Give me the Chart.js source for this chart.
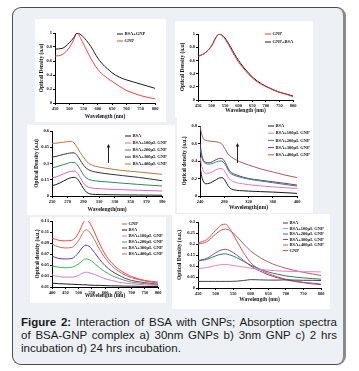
<!DOCTYPE html>
<html>
<head>
<meta charset="utf-8">
<script src="https://cdn.jsdelivr.net/npm/chart.js@4.4.0/dist/chart.umd.min.js"></script>
<style>
  body { margin: 0; width: 359px; height: 371px; background: #fff; position: relative; overflow: hidden; }
  #frame { position: absolute; left: 12px; top: 7px; width: 334px; height: 358px; box-sizing: border-box;
           border: 1.5px solid #4d4d4d; border-right: 3px solid #8a8a8a; border-radius: 9px; background: #edf0f4; }
  .panel { position: absolute; background: #fff; }
  .panel canvas { display: block; }
  #caption { position: absolute; left: 21px; top: 316px; width: 316px; font-family: "Liberation Sans", Arial, sans-serif;
             font-size: 11.5px; color: #1a1a1a; }
  #caption div { height: 13px; line-height: 13px; white-space: nowrap; }
  #caption .j { text-align: justify; text-align-last: justify; white-space: normal; }
</style>
</head>
<body>
<div id="frame"></div>
<div class="panel" id="p1"><canvas></canvas></div>
<div class="panel" id="p2"><canvas></canvas></div>
<div class="panel" id="p3"><canvas></canvas></div>
<div class="panel" id="p4"><canvas></canvas></div>
<div class="panel" id="p5"><canvas></canvas></div>
<div class="panel" id="p6"><canvas></canvas></div>
<div id="caption">
  <div class="j"><b>Figure 2:</b> Interaction of BSA with GNPs; Absorption spectra</div>
  <div class="j">of BSA-GNP complex a) 30nm GNPs b) 3nm GNP c) 2 hrs</div>
  <div>incubation d) 24 hrs incubation.</div>
</div>
<script>
// a) 30nm GNPs
const wl1 = [450, 475, 500, 515, 527, 545, 575, 600, 625, 642, 650, 675, 700, 725, 750, 775, 800]
const bsaGnp1 = [0.77, 0.78, 0.86, 0.93, 1.0, 0.96, 0.81, 0.64, 0.52, 0.46, 0.43, 0.37, 0.33, 0.3, 0.27, 0.24, 0.21]
const gnp1 = [0.67, 0.69, 0.79, 0.9, 1.0, 0.88, 0.64, 0.48, 0.38, 0.33, 0.31, 0.24, 0.18, 0.14, 0.105, 0.08, 0.06]

// b) 3nm GNP
const wl2 = [450, 475, 500, 515, 528, 545, 562, 592, 623, 654, 684, 715, 746, 776, 800]
const gnp2 = [0.66, 0.71, 0.82, 0.94, 1.0, 0.95, 0.84, 0.62, 0.45, 0.32, 0.235, 0.175, 0.12, 0.085, 0.05]
const gnpBsa2 = [0.66, 0.71, 0.82, 0.94, 1.0, 0.96, 0.86, 0.645, 0.47, 0.335, 0.245, 0.18, 0.125, 0.09, 0.06]

// c) 2 hrs incubation
const wl3 = [250, 255, 260, 265, 270, 275, 278, 282, 286, 290, 294, 298, 305, 320, 340, 360, 390]
const bsa3 = [0.095, 0.105, 0.12, 0.14, 0.158, 0.17, 0.172, 0.16, 0.12, 0.07, 0.035, 0.02, 0.014, 0.012, 0.01, 0.009, 0.007]
const g100c = [0.168, 0.175, 0.19, 0.205, 0.22, 0.228, 0.23, 0.215, 0.17, 0.12, 0.09, 0.078, 0.07, 0.064, 0.058, 0.053, 0.046]
const g200c = [0.26, 0.268, 0.28, 0.29, 0.302, 0.31, 0.31, 0.29, 0.245, 0.195, 0.165, 0.15, 0.14, 0.13, 0.118, 0.107, 0.092]
const g300c = [0.36, 0.365, 0.375, 0.385, 0.393, 0.398, 0.398, 0.375, 0.33, 0.285, 0.255, 0.237, 0.222, 0.205, 0.188, 0.172, 0.141]
const g400c = [0.485, 0.488, 0.492, 0.497, 0.502, 0.505, 0.49, 0.45, 0.4, 0.36, 0.32, 0.295, 0.275, 0.255, 0.235, 0.222, 0.2]

// d) 24 hrs incubation (near UV)
const wl4 = [240, 243, 246, 250, 255, 260, 265, 270, 275, 278, 282, 286, 290, 295, 300, 310, 320, 340, 360, 380, 400]
const bsa4 = [0.334, 0.22, 0.16, 0.14, 0.145, 0.16, 0.18, 0.2, 0.21, 0.205, 0.17, 0.12, 0.087, 0.072, 0.065, 0.06, 0.056, 0.05, 0.045, 0.038, 0.03]
const g100d = [0.45, 0.34, 0.28, 0.26, 0.262, 0.275, 0.295, 0.31, 0.315, 0.305, 0.27, 0.22, 0.185, 0.165, 0.152, 0.14, 0.13, 0.115, 0.105, 0.095, 0.087]
const g200d = [0.54, 0.44, 0.39, 0.37, 0.365, 0.37, 0.385, 0.397, 0.4, 0.39, 0.355, 0.3, 0.26, 0.24, 0.227, 0.208, 0.193, 0.172, 0.152, 0.132, 0.114]
const g300d = [0.6, 0.47, 0.405, 0.385, 0.38, 0.39, 0.41, 0.425, 0.43, 0.42, 0.38, 0.32, 0.277, 0.255, 0.24, 0.218, 0.2, 0.18, 0.163, 0.145, 0.125]
const g400d = [0.8, 0.7, 0.65, 0.635, 0.628, 0.625, 0.62, 0.615, 0.6, 0.575, 0.53, 0.48, 0.455, 0.43, 0.41, 0.38, 0.355, 0.31, 0.275, 0.24, 0.21]

// 2 hrs incubation (visible)
const wl5 = [400, 425, 450, 475, 500, 515, 528, 540, 560, 580, 600, 625, 650, 675, 700, 750, 800]
const gnp5 = [0.099, 0.095, 0.094, 0.095, 0.108, 0.124, 0.132, 0.128, 0.11, 0.088, 0.07, 0.054, 0.043, 0.035, 0.029, 0.022, 0.019]
const bsa5 = [0.017, 0.016, 0.0155, 0.015, 0.0145, 0.014, 0.014, 0.0135, 0.013, 0.013, 0.0125, 0.012, 0.012, 0.0115, 0.0115, 0.011, 0.011]
const g100e = [0.032, 0.029, 0.028, 0.028, 0.031, 0.035, 0.037, 0.036, 0.033, 0.029, 0.025, 0.022, 0.019, 0.017, 0.016, 0.014, 0.013]
const g200e = [0.048, 0.046, 0.045, 0.046, 0.052, 0.058, 0.061, 0.06, 0.053, 0.045, 0.038, 0.031, 0.026, 0.022, 0.019, 0.016, 0.014]
const g300e = [0.066, 0.062, 0.061, 0.062, 0.072, 0.082, 0.086, 0.084, 0.073, 0.06, 0.049, 0.039, 0.032, 0.026, 0.022, 0.018, 0.015]
const g400e = [0.088, 0.083, 0.081, 0.082, 0.094, 0.107, 0.114, 0.111, 0.096, 0.078, 0.063, 0.049, 0.039, 0.032, 0.027, 0.021, 0.017]

// 24 hrs incubation (visible)
const wl6 = [450, 475, 500, 515, 528, 540, 560, 580, 600, 625, 650, 675, 700, 725, 750, 775, 800]
const bsa6 = [0.03, 0.03, 0.03, 0.03, 0.03, 0.03, 0.031, 0.034, 0.038, 0.037, 0.036, 0.036, 0.037, 0.036, 0.035, 0.035, 0.034]
const g100f = [0.088, 0.093, 0.102, 0.106, 0.107, 0.105, 0.1, 0.095, 0.09, 0.085, 0.081, 0.078, 0.076, 0.075, 0.074, 0.074, 0.073]
const g200f = [0.123, 0.13, 0.146, 0.153, 0.155, 0.151, 0.138, 0.121, 0.104, 0.087, 0.073, 0.063, 0.055, 0.05, 0.046, 0.043, 0.04]
const g300f = [0.125, 0.135, 0.16, 0.172, 0.176, 0.17, 0.15, 0.125, 0.1, 0.078, 0.06, 0.047, 0.037, 0.03, 0.024, 0.019, 0.015]
const g400f = [0.2, 0.21, 0.245, 0.262, 0.268, 0.262, 0.235, 0.2, 0.168, 0.14, 0.118, 0.102, 0.09, 0.08, 0.071, 0.064, 0.057]
const gnp6 = [0.205, 0.22, 0.262, 0.285, 0.29, 0.27, 0.215, 0.16, 0.115, 0.085, 0.066, 0.051, 0.04, 0.032, 0.026, 0.022, 0.018]

const tickFont = { family: 'Liberation Serif', size: 4.5, weight: 'bold' }
const titleFont = { family: 'Liberation Serif', size: 5.5, weight: 'bold' }

function series(xs, ys) {
    return xs.map((x, i) => ({ x: x, y: ys[i] }))
}

function line(label, color, xs, ys) {
    return { label: label, borderColor: color, data: series(xs, ys) }
}

// dibuja la leyenda pequeña dentro del gráfico
const miniLegend = {
    id: 'miniLegend',
    afterDraw(chart, args, opts) {
        const ctx = chart.ctx
        ctx.save()
        ctx.font = 'bold 4.5px "Liberation Serif"'
        ctx.textBaseline = 'middle'
        chart.data.datasets.forEach((ds, i) => {
            const y = opts.y + i * opts.dy
            ctx.strokeStyle = ds.borderColor
            ctx.lineWidth = 1
            ctx.beginPath()
            ctx.moveTo(opts.x, y)
            ctx.lineTo(opts.x + opts.len, y)
            ctx.stroke()
            ctx.fillStyle = '#111'
            ctx.fillText(ds.label, opts.x + opts.len + 1.5, y)
        })
        ctx.restore()
    }
}

// flecha vertical (en unidades de datos)
const arrowMark = {
    id: 'arrowMark',
    afterDatasetsDraw(chart, args, opts) {
        if (opts.at === undefined) return
        const ctx = chart.ctx
        const x = Math.round(chart.scales.x.getPixelForValue(opts.at)) + 0.5
        const y0 = chart.scales.y.getPixelForValue(opts.from)
        const y1 = chart.scales.y.getPixelForValue(opts.to)
        ctx.save()
        ctx.strokeStyle = '#222'
        ctx.fillStyle = '#222'
        ctx.lineWidth = 1
        ctx.beginPath()
        ctx.moveTo(x, y0)
        ctx.lineTo(x, y1 + 2)
        ctx.stroke()
        ctx.beginPath()
        ctx.moveTo(x, y1)
        ctx.lineTo(x - 1.8, y1 + 3.5)
        ctx.lineTo(x + 1.8, y1 + 3.5)
        ctx.closePath()
        ctx.fill()
        ctx.restore()
    }
}

function fmt(v) {
    return String(Math.round(v * 1000) / 1000)
}

function makeChart(id, lay, sc, datasets, extra) {
    const [px, py, pw, ph] = lay.panel
    const [l, t, r, b] = lay.plot
    const wrap = document.getElementById(id)
    wrap.style.left = px + 'px'
    wrap.style.top = py + 'px'
    wrap.style.width = pw + 'px'
    wrap.style.height = ph + 'px'
    const canvas = wrap.querySelector('canvas')
    canvas.width = pw
    canvas.height = ph
    const lh = titleFont.size * 1.2

    return new Chart(canvas, {
        type: 'line',
        data: { datasets: datasets },
        options: {
            responsive: false,
            animation: false,
            events: [],
            layout: { padding: { left: 0, top: t - py, right: px + pw - r, bottom: 0 } },
            elements: {
                point: { radius: 0 },
                line: { borderWidth: 1, tension: 0.4, cubicInterpolationMode: 'monotone' }
            },
            scales: {
                x: {
                    type: 'linear', min: sc.xMin, max: sc.xMax,
                    ticks: { stepSize: sc.xStep, autoSkip: false, maxRotation: 0, font: tickFont, color: '#111', padding: 1 },
                    grid: { drawOnChartArea: false, tickLength: 2, color: '#000' },
                    border: { color: '#000', width: 1 },
                    title: { display: true, text: sc.xTitle, font: titleFont, color: '#111',
                             padding: { top: 0, bottom: py + ph - lay.xTitleY - lh / 2 } },
                    afterFit: s => { s.height = py + ph - b; s.paddingLeft = 0; s.paddingRight = 0 }
                },
                y: {
                    min: sc.yMin, max: sc.yMax,
                    ticks: { stepSize: sc.yStep, autoSkip: false, font: tickFont, color: '#111', padding: 1, callback: fmt },
                    grid: { drawOnChartArea: false, tickLength: 2, color: '#000' },
                    border: { color: '#000', width: 1 },
                    title: { display: true, text: sc.yTitle, font: titleFont, color: '#111',
                             padding: { top: lay.yTitleX - px - lh / 2, bottom: 0 } },
                    afterFit: s => { s.width = l - px; s.paddingTop = 0; s.paddingBottom = 0 }
                }
            },
            plugins: {
                legend: { display: false },
                tooltip: { enabled: false },
                miniLegend: { x: lay.legend[0] - px, y: lay.legend[1] - py, dy: lay.legend[2], len: lay.legend[3] },
                arrowMark: extra || {}
            }
        },
        plugins: [miniLegend, arrowMark]
    })
}

makeChart('p1',
    { panel: [35, 19, 131, 103], plot: [55, 33, 155, 103], yTitleX: 42, xTitleY: 117, legend: [117, 34, 7, 6] },
    { xMin: 450, xMax: 800, xStep: 50, yMin: 0, yMax: 1, yStep: 0.2, xTitle: 'Wavelength (nm)', yTitle: 'Optical Density (a.u)' },
    [line('BSA+GNP', '#1a1a1a', wl1, bsaGnp1), line('GNP', '#ff3b3b', wl1, gnp1)])

makeChart('p2',
    { panel: [175, 21, 138, 96], plot: [198, 34, 293, 100], yTitleX: 183, xTitleY: 111, legend: [265, 34, 8, 6] },
    { xMin: 450, xMax: 800, xStep: 50, yMin: 0, yMax: 1, yStep: 0.2, xTitle: 'Wavelength (nm)', yTitle: 'Optical Density (a.u)' },
    [line('GNP', '#f03a3a', wl2, gnp2), line('GNP+BSA', '#1a1a1a', wl2, gnpBsa2)])

makeChart('p3',
    { panel: [27, 125, 148, 90], plot: [52, 131, 162, 196], yTitleX: 37, xTitleY: 210, legend: [125, 136, 7, 6] },
    { xMin: 250, xMax: 390, xStep: 20, yMin: 0, yMax: 0.6, yStep: 0.15, xTitle: 'Wavelength(nm)', yTitle: 'Optical Density (a.u)' },
    [line('BSA', '#1a1a1a', wl3, bsa3), line('BSA+100µL GNP', '#e65fc0', wl3, g100c),
     line('BSA+200µL GNP', '#2e8b57', wl3, g200c), line('BSA+300µL GNP', '#333333', wl3, g300c),
     line('BSA+400µL GNP', '#c2703e', wl3, g400c)],
    { at: 321, from: 0.305, to: 0.48 })

makeChart('p4',
    { panel: [177, 117, 136, 96], plot: [200, 126, 297, 196], yTitleX: 185, xTitleY: 208, legend: [268, 126, 7.2, 6] },
    { xMin: 240, xMax: 400, xStep: 40, yMin: 0, yMax: 0.8, yStep: 0.2, xTitle: 'Wavelength(nm)', yTitle: 'Optical density (a.u.)' },
    [line('BSA', '#1a1a1a', wl4, bsa4), line('BSA+100µL GNP', '#ef6fc8', wl4, g100d),
     line('BSA+200µL GNP', '#2e8b57', wl4, g200d), line('BSA+300µL GNP', '#7030a0', wl4, g300d),
     line('BSA+400µL GNP', '#b05454', wl4, g400d)],
    { at: 301, from: 0.377, to: 0.606 })

makeChart('p5',
    { panel: [30, 217, 136, 86], plot: [52, 221, 158, 287], yTitleX: 38, xTitleY: 296, legend: [122, 224, 6, 5] },
    { xMin: 400, xMax: 800, xStep: 50, yMin: 0.01, yMax: 0.13, yStep: 0.02, xTitle: 'Wavelength (nm)', yTitle: 'Optical density (a.u.)' },
    [line('GNP', '#ff4040', wl5, gnp5), line('BSA', '#1a1a1a', wl5, bsa5),
     line('BSA+100µL GNP', '#ee6fc8', wl5, g100e), line('BSA+200µL GNP', '#3cb44b', wl5, g200e),
     line('BSA+300µL GNP', '#7030a0', wl5, g300e), line('BSA+400µL GNP', '#c0704a', wl5, g400e)])

makeChart('p6',
    { panel: [172, 214, 158, 95], plot: [198, 222, 321, 288], yTitleX: 180, xTitleY: 300, legend: [283, 223, 5.5, 5] },
    { xMin: 450, xMax: 800, xStep: 50, yMin: 0, yMax: 0.3, yStep: 0.05, xTitle: 'Wavelength (nm)', yTitle: 'Optical Density (a.u.)' },
    [line('BSA', '#444444', wl6, bsa6), line('BSA+100µL GNP', '#f07cc4', wl6, g100f),
     line('BSA+200µL GNP', '#2e7d4f', wl6, g200f), line('BSA+300µL GNP', '#9040c0', wl6, g300f),
     line('BSA+400µL GNP', '#b06060', wl6, g400f), line('GNP', '#f04848', wl6, gnp6)])
</script>
</body>
</html>
